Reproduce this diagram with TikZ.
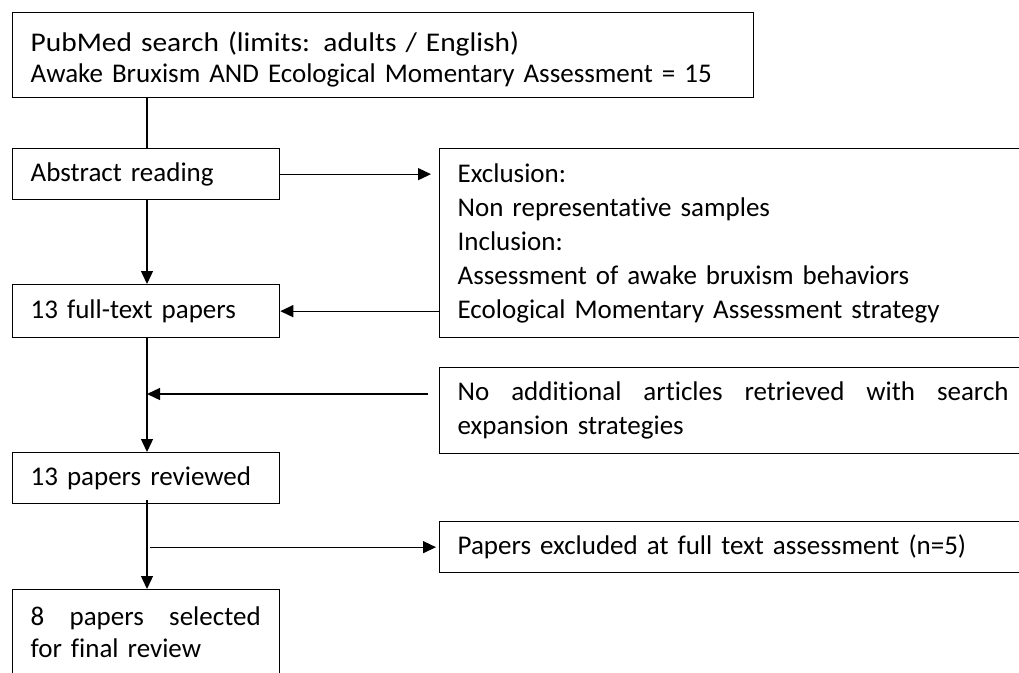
\documentclass[tikz,border=0pt]{standalone}
\usepackage{fontspec}
\setmainfont{Carlito}[Ligatures=NoCommon]
\newfontfamily\widefont{Carlito}[FakeStretch=1.09,Ligatures=NoCommon]
\usetikzlibrary{arrows.meta}
\begin{document}
\begin{tikzpicture}[x=1pt,y=-1pt,
  box/.style={draw,line width=1.3pt,anchor=north west,inner xsep=18pt,inner ysep=0pt,align=left,font=\fontsize{27}{31}\selectfont},
  lbox/.style={box,minimum width=267pt,text width=231pt},
  rbox/.style={box,minimum width=580pt,text width=544pt},
  arr/.style={line width=1.3pt,-{Triangle[length=13pt,width=12pt]}},
  ln/.style={line width=1.3pt}]
\useasboundingbox (0,0) rectangle (1019,672);
\node[box,minimum width=741pt,minimum height=85pt,text width=705pt] (top) at (12,12)
  {\rule{0pt}{28pt}{\widefont PubMed search (limits: adults / English)}\\Awake Bruxism AND Ecological Momentary Assessment = 15};
\node[lbox,minimum height=51pt] (abs) at (12,148) {Abstract reading};
\node[rbox,minimum height=189pt,font=\fontsize{27}{34}\selectfont] (excl) at (439,148)
  {Exclusion:\\Non representative samples\\Inclusion:\\Assessment of awake bruxism behaviors\\Ecological Momentary Assessment strategy};
\node[lbox,minimum height=53pt] (full) at (12,284) {13 full-text papers};
\node[rbox,minimum height=86pt,font=\fontsize{27}{34}\selectfont] (noadd) at (439,367)
  {\makebox[551pt][s]{No\hfill additional\hfill articles\hfill retrieved\hfill with\hfill search}\\expansion strategies};
\node[lbox,minimum height=51pt] (rev) at (12,452) {13 papers reviewed};
\node[rbox,minimum height=51pt] (excl2) at (439,521) {Papers excluded at full text assessment (n=5)};
\node[lbox,minimum height=85pt,font=\fontsize{27}{32}\selectfont] (sel) at (12,589)
  {\makebox[230pt][s]{8\hfill papers\hfill selected}\\for final review};
\coordinate (c) at (147,0);
\coordinate (na) at (428,394);
\draw[ln] (top.south -| c) -- (abs.north -| c);
\draw[arr] (abs.east) -- ([xshift=-8pt]excl.west |- abs.east);
\draw[arr] (excl.west |- full.east) -- (full.east);
\draw[arr] (abs.south -| c) -- (full.north -| c);
\draw[arr] (full.south -| c) -- (rev.north -| c);
\draw[arr] (na) -- (na -| c);
\draw[arr] ([yshift=4pt]rev.south -| c) -- (sel.north -| c);
\draw[arr] ([xshift=3pt]excl2.west -| c) -- ([xshift=-3pt]excl2.west);
\end{tikzpicture}
\end{document}
